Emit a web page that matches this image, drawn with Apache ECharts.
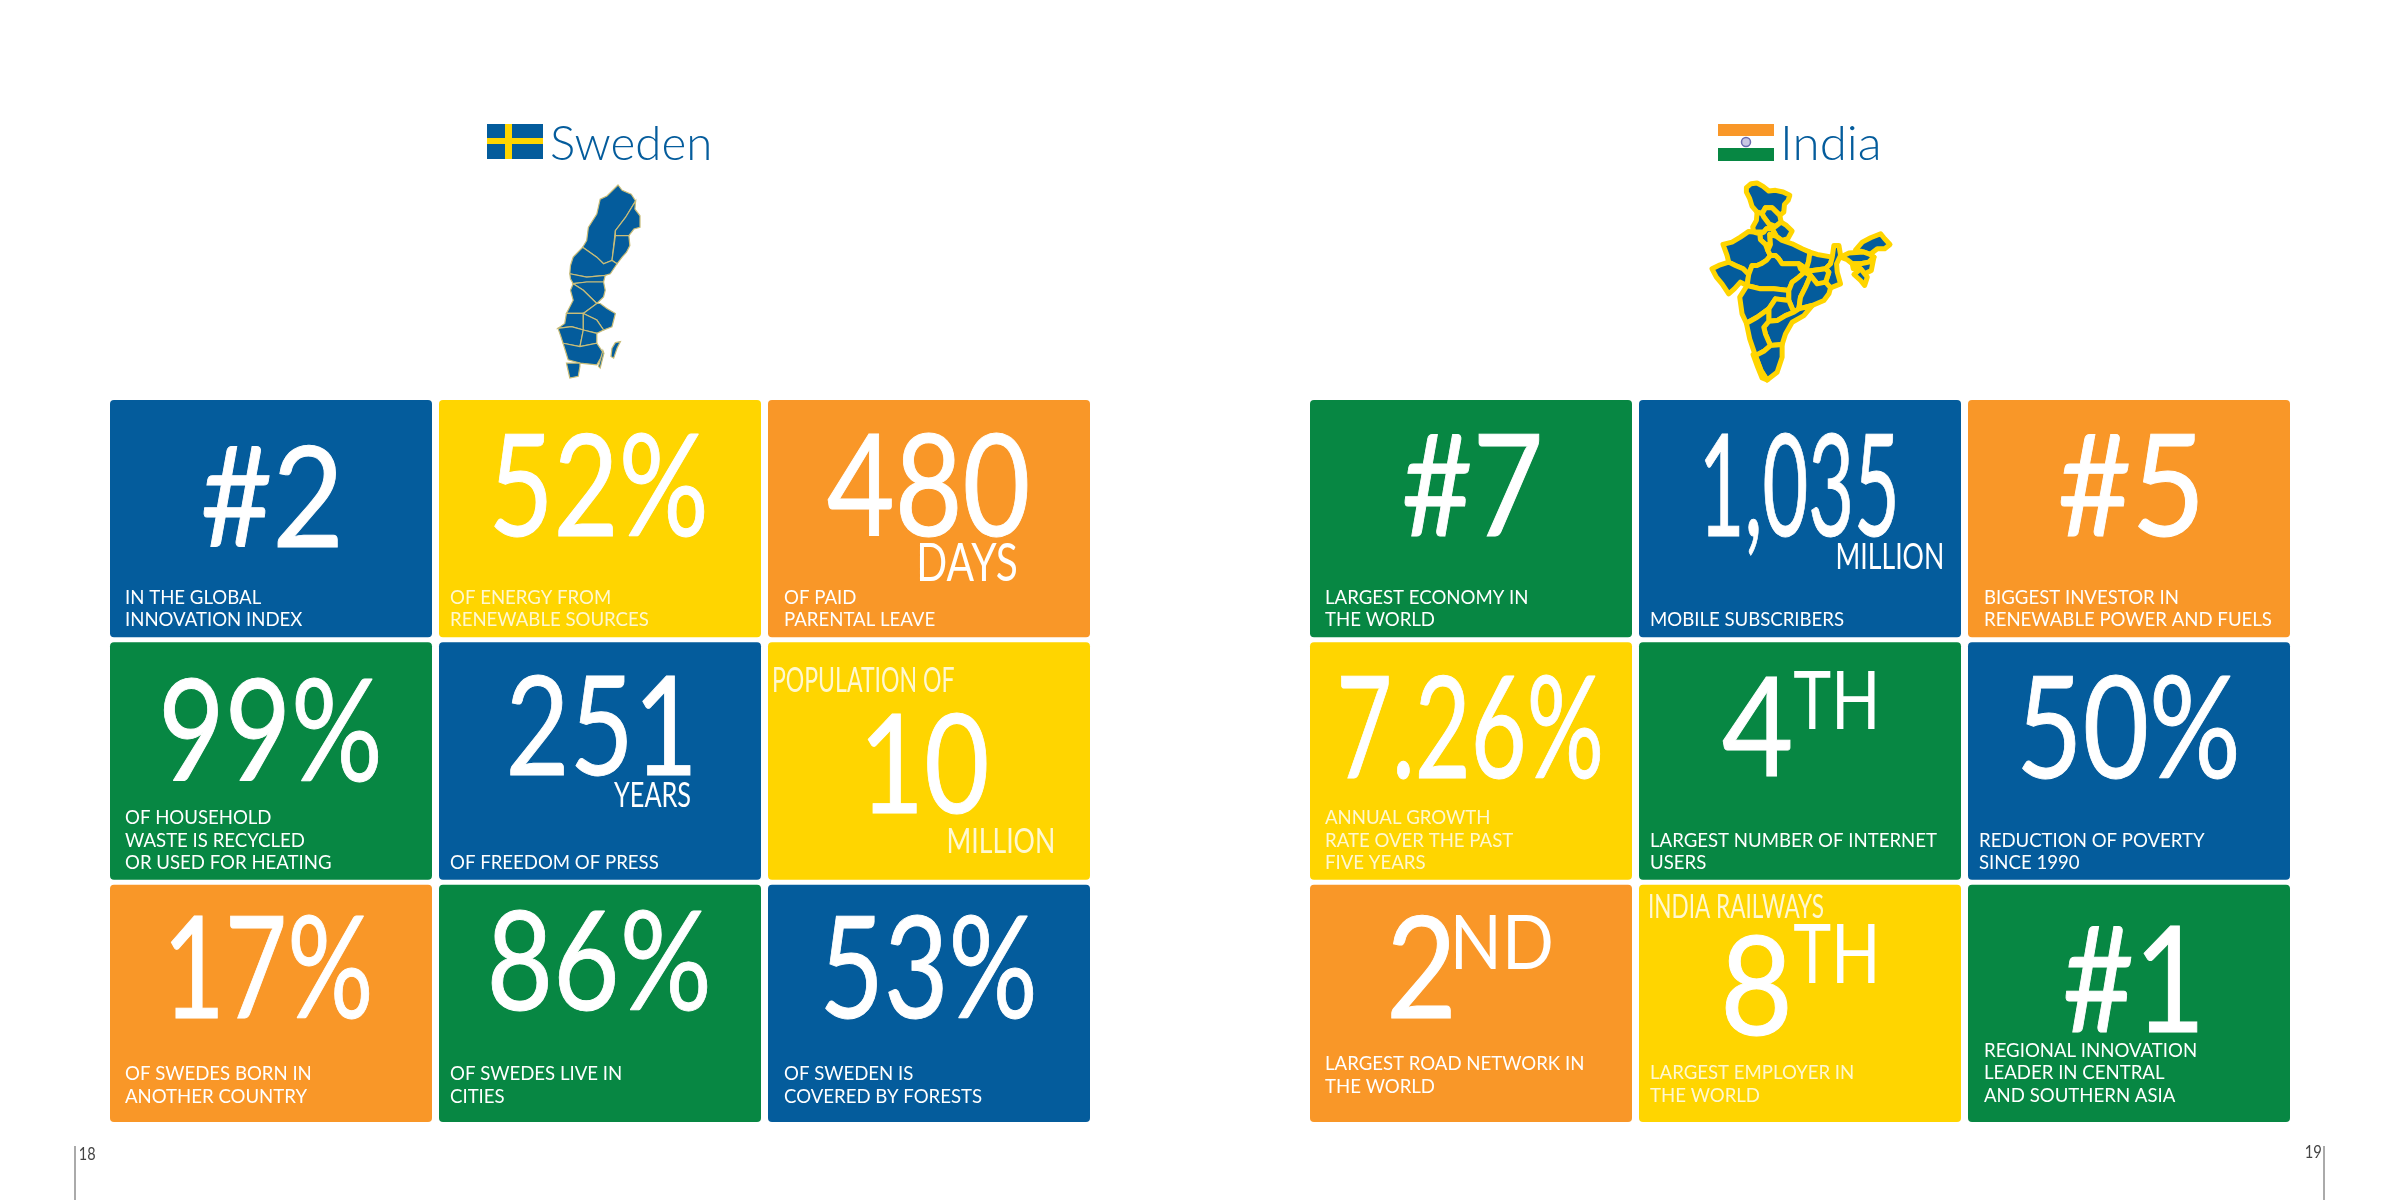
<!DOCTYPE html>
<html>
<head>
<meta charset="utf-8">
<style>html,body{margin:0;padding:0;background:#fff}#main{width:2400px;height:1200px}</style>
<script src="https://cdn.jsdelivr.net/npm/echarts@6/dist/echarts.min.js"></script>
</head>
<body>
<div id="main"></div>
<script>
// tile contents, row by row
const swedenColors = ['blue', 'yellow', 'orange', 'green', 'blue', 'yellow', 'orange', 'green', 'blue'];
const swedenFigures = ['#2', '52%', '480', '99%', '251', '10', '17%', '86%', '53%'];
const swedenWords = [[], [], ['DAYS'], [], ['YEARS'], ['POPULATION OF', 'MILLION'], [], [], []];
const swedenCaptions = [
  'IN THE GLOBAL\nINNOVATION INDEX',
  'OF ENERGY FROM\nRENEWABLE SOURCES',
  'OF PAID\nPARENTAL LEAVE',
  'OF HOUSEHOLD\nWASTE IS RECYCLED\nOR USED FOR HEATING',
  'OF FREEDOM OF PRESS',
  '',
  'OF SWEDES BORN IN\nANOTHER COUNTRY',
  'OF SWEDES LIVE IN\nCITIES',
  'OF SWEDEN IS\nCOVERED BY FORESTS'
];

const indiaColors = ['green', 'blue', 'orange', 'yellow', 'green', 'blue', 'orange', 'yellow', 'green'];
const indiaFigures = ['#7', '1,035', '#5', '7.26%', '4', '50%', '2', '8', '#1'];
const indiaWords = [[], ['MILLION'], [], [], ['TH'], [], ['ND'], ['TH', 'INDIA RAILWAYS'], []];
const indiaCaptions = [
  'LARGEST ECONOMY IN\nTHE WORLD',
  'MOBILE SUBSCRIBERS',
  'BIGGEST INVESTOR IN\nRENEWABLE POWER AND FUELS',
  'ANNUAL GROWTH\nRATE OVER THE PAST\nFIVE YEARS',
  'LARGEST NUMBER OF INTERNET\nUSERS',
  'REDUCTION OF POVERTY\nSINCE 1990',
  'LARGEST ROAD NETWORK IN\nTHE WORLD',
  'LARGEST EMPLOYER IN\nTHE WORLD',
  'REGIONAL INNOVATION\nLEADER IN CENTRAL\nAND SOUTHERN ASIA'
];

// where the text sits inside a tile: [dx, dy, width, height] from the tile corner
const swedenFigureBoxes = [[93,45,135,102],[55,33,210,103],[60,33,199,103],[54,36,214,103],[71,33,180,100],[100,71,118,100],[61,30,198,103],[52,24,216,101],[57,30,208,103]];
const swedenWordBoxes = [[], [], [[152,143,96,38]], [], [[175,139,76,26]], [[6,25,180,25],[181,186,104,25]], [], [], []];
const swedenCaptionSpots = [[15,226],[11,226],[16,226],[15,227],[11,227],[0,0],[15,218],[11,218],[16,218]];
const indiaFigureBoxes = [[94,32,136,104],[66,33,190,103],[92,32,138,104],[31,33,259,103],[84,33,68,101],[54,33,214,103],[81,30,60,103],[86,50,63,100],[97,40,132,107]];
const indiaWordBoxes = [[], [[199,142,104,27]], [], [], [[155,28,81,59]], [], [[146,29,95,55]], [[155,38,81,60],[11,9,173,24]], []];
const indiaCaptionSpots = [[15,226],[11,226],[16,226],[15,227],[11,227],[11,227],[15,208],[11,217],[16,217]];

// map outlines (x, -y)
const swedenRegions = {
  r1: [[533,252],[545,268],[572,280],[585,300],[555,350],[525,390],[515,480],[490,490],[470,470],[428,440],[440,420],[445,380],[470,340],[480,295],[500,285]],
  r2: [[585,300],[583,325],[598,345],[598,380],[580,385],[565,405],[525,405],[525,390],[555,350]],
  r3: [[525,405],[565,405],[568,435],[558,455],[545,470],[530,490],[515,480]],
  r4: [[428,440],[470,470],[490,490],[515,480],[530,490],[510,520],[495,525],[440,530],[390,520],[392,495],[400,470]],
  r5: [[390,520],[440,530],[495,525],[490,545],[440,545],[400,550],[392,535]],
  r6: [[400,550],[440,545],[490,545],[495,570],[490,590],[470,610],[430,570]],
  r7: [[400,600],[392,570],[400,550],[430,570],[470,610],[430,640],[380,640]],
  r8: [[470,610],[480,610],[500,625],[525,640],[515,680],[490,690],[470,660],[430,640]],
  r9: [[380,640],[430,640],[430,690],[395,680],[355,685],[375,670]],
  r10: [[430,640],[470,660],[490,690],[470,700],[430,690]],
  r11: [[355,685],[395,680],[430,690],[420,740],[370,730],[362,705]],
  r12: [[430,690],[470,700],[470,730],[420,740]],
  r13: [[370,730],[420,740],[470,730],[490,760],[470,795],[420,790],[385,780]],
  r14: [[380,790],[420,790],[420,800],[415,830],[390,835]],
  gotland: [[525,728],[540,725],[530,745],[520,775],[512,770],[515,745]],
  oland: [[488,752],[491,760],[480,805],[475,800]]
};
const indiaRegions = {
  jk: [[258,262],[272,250],[290,248],[308,258],[325,272],[345,270],[368,275],[388,285],[383,300],[372,312],[370,335],[358,345],[335,322],[315,322],[305,340],[290,335],[275,318],[268,295],[258,275]],
  himachal: [[305,340],[315,322],[335,322],[358,345],[362,365],[345,378],[325,370],[310,350]],
  uttarakhand: [[345,378],[362,365],[378,375],[395,392],[382,415],[365,420],[348,408],[335,385]],
  punjab: [[290,335],[305,340],[310,350],[325,370],[335,385],[318,385],[310,395],[280,395],[277,380],[288,360]],
  haryana: [[310,395],[318,385],[335,385],[348,408],[328,402],[330,432],[315,432],[300,418],[298,400]],
  rajasthan: [[188,432],[215,425],[240,410],[265,393],[280,395],[298,400],[300,418],[315,432],[322,450],[330,465],[318,480],[302,490],[290,495],[275,495],[265,522],[248,505],[225,495],[205,485],[200,465]],
  up: [[330,432],[328,402],[348,408],[365,420],[395,430],[425,445],[448,455],[445,480],[438,505],[415,490],[365,490],[355,475],[345,465],[330,465],[322,450]],
  bihar: [[448,455],[470,462],[515,470],[510,490],[495,505],[440,512],[438,505],[445,480]],
  bengal: [[520,435],[535,435],[540,465],[528,490],[530,515],[540,550],[510,562],[495,545],[505,515],[495,505],[510,490],[515,470]],
  jharkhand: [[440,512],[495,505],[505,515],[495,545],[470,550],[450,525],[432,515],[420,505],[415,490],[438,505]],
  gujarat: [[155,505],[175,495],[205,485],[225,495],[248,505],[265,522],[260,555],[240,545],[222,565],[205,580],[185,550],[168,530]],
  mp: [[265,522],[275,495],[290,495],[302,490],[318,480],[330,465],[345,465],[355,475],[365,490],[415,490],[420,505],[432,515],[415,530],[395,545],[385,570],[340,565],[300,565],[260,555]],
  maharashtra: [[238,590],[260,555],[300,565],[340,565],[385,570],[385,600],[345,595],[325,625],[290,650],[258,668],[245,640]],
  chhattisgarh: [[385,570],[395,545],[415,530],[432,515],[450,525],[435,560],[420,590],[415,625],[400,635],[385,600]],
  odisha: [[450,525],[470,550],[495,545],[510,562],[505,580],[490,600],[455,615],[415,625],[420,590],[435,560]],
  telangana: [[345,595],[385,600],[400,635],[375,645],[350,660],[325,662],[325,625]],
  andhra: [[400,635],[415,625],[455,615],[430,645],[395,665],[375,700],[365,732],[330,735],[315,700],[310,680],[325,662],[350,660],[375,645]],
  karnataka: [[258,668],[290,650],[325,625],[325,662],[310,680],[315,700],[330,735],[310,752],[285,765],[268,715]],
  tamil: [[285,765],[310,752],[330,735],[365,732],[365,770],[350,815],[320,838],[302,810]],
  kerala: [[278,762],[285,765],[302,810],[320,838],[305,832],[292,800]],
  arunachal: [[585,448],[605,425],[630,412],[660,400],[672,415],[688,432],[672,445],[650,445],[628,462],[610,455]],
  assam: [[540,470],[565,458],[610,455],[628,462],[640,470],[625,485],[600,490],[575,490],[560,478]],
  meghalaya: [[575,490],[600,490],[625,485],[640,470],[632,510],[612,520],[600,505],[578,505]],
  mizoram: [[580,522],[600,505],[612,520],[620,530],[612,555],[600,540]]
};

const tileColors = { blue: '#045c9c', yellow: '#ffd500', orange: '#f99728', green: '#078743' };
const textFont = 'Lato';

const measure = document.createElement('canvas').getContext('2d');
measure.textBaseline = 'middle';

// a text element whose ink fills the box exactly
function fitText(text, x, y, w, h, fill, weight, thicken) {
  measure.font = (weight || 'normal') + ' 100px ' + textFont;
  const cap = measure.measureText('H');
  const ink = measure.measureText(text);
  const capH = cap.actualBoundingBoxAscent + cap.actualBoundingBoxDescent;
  const inkW = ink.actualBoundingBoxLeft + ink.actualBoundingBoxRight;
  const scale = h / capH;
  const sx = w / inkW;
  const style = { text: text, fontFamily: textFont, fontWeight: weight || 'normal', fontSize: 100, fill: fill, align: 'left', verticalAlign: 'middle' };
  if (thicken) {
    style.stroke = fill;
    style.lineWidth = thicken;
  }
  return { type: 'text', silent: true, x: x + ink.actualBoundingBoxLeft * sx, y: y + cap.actualBoundingBoxAscent * scale, scaleX: sx, scaleY: scale, style: style };
}

function renderTiles(colors, figures, words, captions, figureBoxes, wordBoxes, captionSpots) {
  return function (params, api) {
    const i = params.dataIndex;
    const corner = api.coord([api.value(0), api.value(1)]);
    const pitch = api.size([1, 1]);
    const x = corner[0], y = corner[1];
    const fb = figureBoxes[i];
    const soft = colors[i] === 'yellow' ? '#fff8d0' : '#fff';
    const kids = [{
      type: 'rect',
      shape: { x: x, y: y, width: pitch[0] - 7, height: pitch[1] - 5, r: 4 },
      style: { fill: tileColors[colors[i]] }
    }, fitText(figures[i], x + fb[0], y + fb[1], fb[2], fb[3], '#fff', 'normal', 0.7)];
    words[i].forEach(function (word, k) {
      const b = wordBoxes[i][k];
      kids.push(fitText(word, x + b[0], y + b[1], b[2], b[3], b[3] > 50 ? '#fff' : soft));
    });
    if (captions[i]) {
      const lh = 22.5, size = 18.6;
      measure.font = size + 'px ' + textFont;
      const below = measure.measureText('H').actualBoundingBoxDescent;
      kids.push({
        type: 'text',
        silent: true,
        x: x + captionSpots[i][0],
        y: y + captionSpots[i][1] + lh / 2 - below,
        style: { text: captions[i], fontFamily: textFont, fontSize: size, lineHeight: lh, fill: soft, align: 'left', verticalAlign: 'bottom' }
      });
    }
    return { type: 'group', children: kids };
  };
}

function toGeoJson(regions) {
  return {
    type: 'FeatureCollection',
    features: Object.keys(regions).map(function (name) {
      const ring = regions[name].map(function (p) { return [p[0], -p[1]]; });
      ring.push(ring[0]);
      return { type: 'Feature', properties: { name: name }, geometry: { type: 'Polygon', coordinates: [ring] } };
    })
  };
}
echarts.registerMap('sweden', toGeoJson(swedenRegions));
echarts.registerMap('india', toGeoJson(indiaRegions));

const tileCells = [0, 1, 2].flatMap(function (row) { return [0, 1, 2].map(function (col) { return [col, row]; }); });
const hiddenX = function (g) { return { gridIndex: g, type: 'value', min: 0, max: 3, interval: 1, show: false }; };
const hiddenY = function (g) { return { gridIndex: g, type: 'value', min: 0, max: 3, interval: 1, inverse: true, show: false }; };

const flagElements = [
  { type: 'rect', shape: { x: 487, y: 124, width: 56, height: 35 }, style: { fill: '#045c9c' } },
  { type: 'rect', shape: { x: 505, y: 124, width: 7, height: 35 }, style: { fill: '#ffd500' } },
  { type: 'rect', shape: { x: 487, y: 138, width: 56, height: 6 }, style: { fill: '#ffd500' } },
  { type: 'rect', shape: { x: 1718, y: 124, width: 56, height: 12 }, style: { fill: '#f99728' } },
  { type: 'rect', shape: { x: 1718, y: 148, width: 56, height: 13 }, style: { fill: '#078743' } },
  { type: 'circle', shape: { cx: 1746, cy: 142, r: 4.5 }, style: { fill: '#c8c8e4', stroke: '#6a6ab0', lineWidth: 1.5 } },
  { type: 'line', shape: { x1: 75, y1: 1146, x2: 75, y2: 1200 }, style: { stroke: '#aaa', lineWidth: 2 } },
  { type: 'line', shape: { x1: 2324, y1: 1146, x2: 2324, y2: 1200 }, style: { stroke: '#aaa', lineWidth: 2 } },
  fitText('Sweden', 552, 126, 157, 34, '#045c9c', '300'),
  fitText('India', 1785, 126, 93, 34, '#045c9c', '300'),
  fitText('18', 80, 1148, 15, 12, '#444'),
  fitText('19', 2306, 1146, 15, 12, '#444')
];

const chart = echarts.init(document.getElementById('main'), null, { renderer: 'canvas' });
chart.setOption({
  backgroundColor: '#fff',
  animation: false,
  grid: [
    { left: 110, top: 400, width: 987, height: 727 },
    { left: 1310, top: 400, width: 987, height: 727 }
  ],
  xAxis: [hiddenX(0), hiddenX(1)],
  yAxis: [hiddenY(0), hiddenY(1)],
  geo: [
    { map: 'sweden', left: 558, top: 185, width: 82, height: 193, aspectScale: 1, silent: true, roam: false,
      itemStyle: { areaColor: '#045c9c', borderColor: '#c9bd78', borderWidth: 1.2 } },
    { map: 'india', left: 1712, top: 183, width: 178, height: 197, aspectScale: 1, silent: true, roam: false,
      itemStyle: { areaColor: '#045c9c', borderColor: '#ffd500', borderWidth: 5, borderJoin: 'round' } }
  ],
  graphic: { elements: flagElements },
  series: [
    { type: 'custom', xAxisIndex: 0, yAxisIndex: 0, coordinateSystem: 'cartesian2d', clip: false, silent: true,
      renderItem: renderTiles(swedenColors, swedenFigures, swedenWords, swedenCaptions, swedenFigureBoxes, swedenWordBoxes, swedenCaptionSpots),
      encode: { x: 0, y: 1 }, data: tileCells },
    { type: 'custom', xAxisIndex: 1, yAxisIndex: 1, coordinateSystem: 'cartesian2d', clip: false, silent: true,
      renderItem: renderTiles(indiaColors, indiaFigures, indiaWords, indiaCaptions, indiaFigureBoxes, indiaWordBoxes, indiaCaptionSpots),
      encode: { x: 0, y: 1 }, data: tileCells }
  ]
});
</script>
</body>
</html>
